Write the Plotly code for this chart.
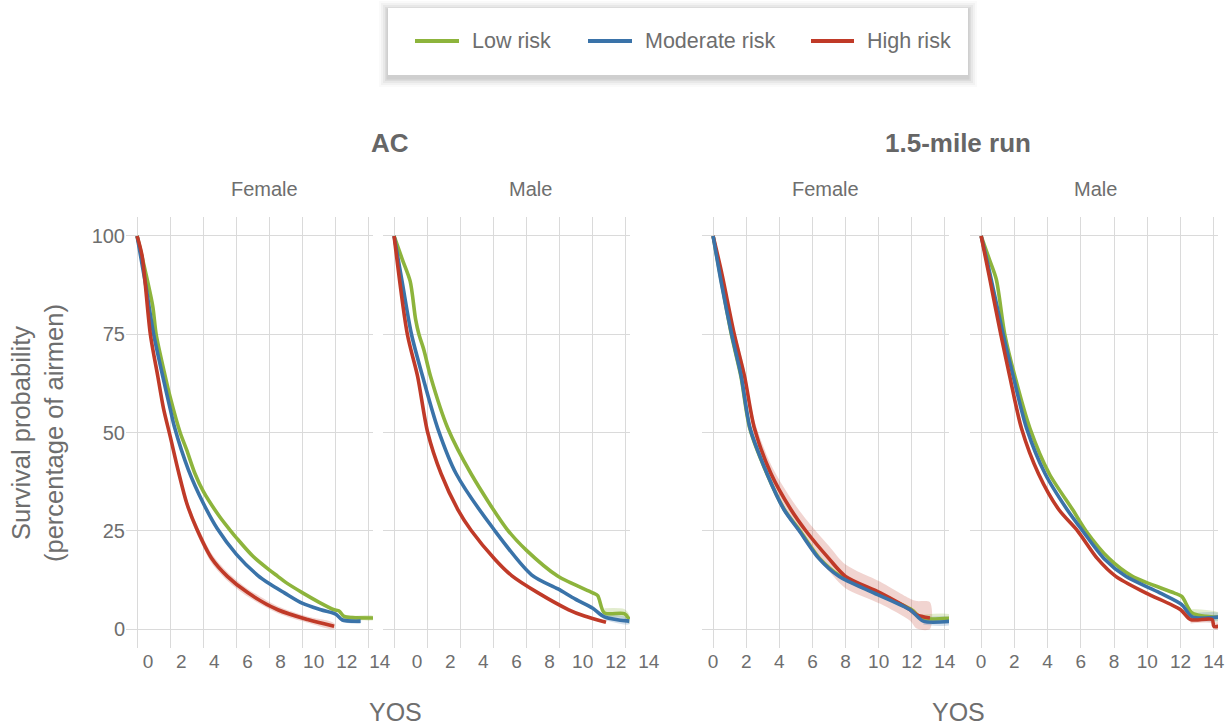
import plotly.graph_objects as go

# ---------------- data ----------------
risk_names = ["Low risk", "Moderate risk", "High risk"]
risk_colors = ["#8db43c", "#3a73a9", "#c03a28"]
risk_fills = ["rgba(141,180,60,0.25)", "rgba(58,115,169,0.22)", "rgba(192,58,40,0.22)"]

# AC - Female
ac_f_low_t = [0, 0.5, 0.95, 1.15, 1.7, 2.0, 2.6, 3.0, 3.5, 4, 5, 5.65, 6, 7, 8, 8.5, 9, 10, 11, 11.9, 12.2, 12.5, 13, 14.3]
ac_f_low_s = [100, 91, 82, 75, 64.3, 59, 50, 45.5, 39.5, 35, 28.5, 25, 23.2, 18.5, 15, 13.4, 11.8, 9.2, 6.8, 4.9, 4.6, 3.2, 2.9, 2.8]
ac_f_mod_t = [0, 0.5, 1.0, 1.55, 2.0, 2.25, 3.1, 4, 4.85, 6, 7.3, 8, 8.9, 10, 11.1, 12, 12.4, 13.5]
ac_f_mod_s = [100, 88, 75, 64.3, 56, 51.5, 40.5, 32, 25.5, 19, 13.6, 11.5, 9.2, 6.5, 4.9, 3.8, 2.3, 2.0]
ac_f_high_t = [0, 0.3, 0.8, 1.25, 1.6, 2.0, 2.5, 3.0, 3.6, 4.5, 5.45, 6.7, 8.5, 10.3, 11.9]
ac_f_high_s = [100, 95, 75, 64.3, 56, 49, 40, 32, 25.5, 18, 13.4, 9.2, 4.9, 2.4, 0.7]
ac_f_high_ci = [0, 0.5, 0.8, 1.0, 1.0, 1.1, 1.2, 1.2, 1.2, 1.2, 1.1, 1.0, 0.9, 0.8, 0.8]

# AC - Male
ac_m_low_t = [0, 0.5, 0.97, 1.3, 1.5, 1.8, 2.2, 3.25, 4.65, 6.8, 8, 9.9, 12.0, 12.3, 12.7, 13.9, 14.2]
ac_m_low_s = [100, 94, 88.5, 78.8, 75, 71, 64.3, 51, 39.5, 25.5, 20, 13.4, 9.2, 8.5, 4.1, 3.9, 2.5]
ac_m_mod_t = [0, 0.5, 1.05, 1.72, 2.64, 3.75, 6.0, 8.3, 9.9, 10.95, 12.0, 12.7, 14.2]
ac_m_mod_s = [100, 88, 75, 64.3, 51, 39.5, 25.5, 13.8, 10.2, 7.6, 5.3, 3.1, 2.0]
ac_m_high_t = [0, 0.8, 1.42, 2.03, 2.84, 3.85, 4.67, 6.1, 7.1, 8.7, 10.55, 11.5, 12.8]
ac_m_high_s = [100, 75, 64.3, 50, 39.5, 30.4, 25, 17.7, 13.6, 9.2, 4.9, 3.3, 1.7]

# 1.5-mile run - Female
run_f_low_t = [0, 0.5, 1.1, 1.68, 2.22, 3.25, 4.3, 5.25, 6.45, 7.7, 9.8, 12.0, 12.6, 14.4]
run_f_low_s = [100, 88.5, 75, 64.3, 51, 39.5, 30.4, 25, 17.9, 13.4, 9.2, 4.9, 2.8, 2.8]
run_f_mod_t = [0, 0.5, 1.12, 1.7, 2.24, 3.26, 4.28, 5.2, 6.4, 7.6, 9.7, 11.9, 12.7, 14.4]
run_f_mod_s = [100, 88, 75, 64.3, 51, 39.5, 30.4, 25, 17.9, 13.4, 9.2, 4.9, 2.0, 2.0]
run_f_high_t = [0, 0.5, 1.28, 1.9, 2.5, 3.5, 4.7, 5.6, 7.0, 8.0, 10.1, 11.9, 12.3, 13.1]
run_f_high_s = [100, 91, 75, 64.3, 51, 39.5, 30.4, 25, 17.9, 13.4, 9.2, 4.9, 3.6, 2.8]
run_f_high_ci = [0, 1.0, 1.5, 1.8, 2.0, 2.3, 2.8, 3.0, 3.2, 3.0, 2.8, 2.8, 3.5, 4.0]

# 1.5-mile run - Male
run_m_low_t = [0, 0.5, 0.91, 1.42, 2.03, 2.94, 4.1, 5.5, 6.3, 7.7, 9.1, 11.6, 12.07, 12.7, 14.4]
run_m_low_s = [100, 94, 89, 75, 64.3, 51, 39.5, 30.4, 25, 17.9, 13.4, 9.2, 8.3, 4.1, 3.0]
run_m_mod_t = [0, 0.5, 1.32, 1.93, 2.74, 3.85, 5.17, 6.1, 7.4, 8.7, 10.75, 12.07, 12.7, 14.4]
run_m_mod_s = [100, 91, 75, 64.3, 51, 39.5, 30.4, 25, 17.9, 13.4, 9.2, 6.2, 3.1, 3.1]
run_m_high_t = [0, 0.5, 1.18, 1.72, 2.43, 3.45, 4.67, 5.8, 7.0, 8.1, 9.9, 12.0, 12.6, 13.9, 14.0, 14.3]
run_m_high_s = [100, 89.5, 75, 64.3, 51, 39.5, 30.4, 25, 17.9, 13.4, 9.2, 4.9, 2.4, 2.4, 0.7, 0.7]

# late-follow-up confidence bands: start time and half-width per (panel, risk)
tail_start = [[12.2, 12.4, None], [12.7, 12.7, None], [12.6, 12.7, None], [12.7, 12.7, 12.6]]
tail_halfwidth = [[0.5, 0.6, None], [1.2, 0.8, None], [0.8, 0.9, None], [1.0, 0.9, 1.0]]

group_titles = ["AC", "1.5-mile run"]
sex_titles = ["Female", "Male", "Female", "Male"]
x_ticks = [0, 2, 4, 6, 8, 10, 12, 14]
y_ticks = [0, 25, 50, 75, 100]
x_title = "YOS"
y_title = "Survival probability<br>(percentage of airmen)"

panels = [
    [(ac_f_low_t, ac_f_low_s), (ac_f_mod_t, ac_f_mod_s), (ac_f_high_t, ac_f_high_s)],
    [(ac_m_low_t, ac_m_low_s), (ac_m_mod_t, ac_m_mod_s), (ac_m_high_t, ac_m_high_s)],
    [(run_f_low_t, run_f_low_s), (run_f_mod_t, run_f_mod_s), (run_f_high_t, run_f_high_s)],
    [(run_m_low_t, run_m_low_s), (run_m_mod_t, run_m_mod_s), (run_m_high_t, run_m_high_s)],
]
bands = {0: ac_f_high_ci, 2: run_f_high_ci}

# ---------------- layout helpers ----------------
W, H = 1231, 726
FONT = "Liberation Sans, Arial, sans-serif"
TXT = "#6e6e6e"
GRID = "#dadada"


def px(x):
    return x / W


def py(y):
    return 1 - y / H


x_domains = [(126, 373), (383, 630), (702, 949), (970, 1218)]
label_shift = [11, 23, 0, 0]
y_dom = [py(648), py(217)]

fig = go.Figure()


def add_band(t, lo, up, color, xa, ya):
    fig.add_trace(go.Scatter(x=list(t) + list(t)[::-1], y=list(up) + list(lo)[::-1], fill="toself",
                             mode="lines", fillcolor=color,
                             line=dict(width=0, shape="spline", smoothing=0.8),
                             hoverinfo="skip", showlegend=False, xaxis=xa, yaxis=ya))


for i, series in enumerate(panels):
    xa = "x" if i == 0 else f"x{i+1}"
    ya = "y" if i == 0 else f"y{i+1}"
    if i in bands:
        t, s = series[2]
        hw = bands[i]
        add_band(t, [max(0, v - h) for v, h in zip(s, hw)],
                 [min(100, v + h) for v, h in zip(s, hw)], risk_fills[2], xa, ya)
    for k in range(3):
        ts = tail_start[i][k]
        if ts is None:
            continue
        t, s = series[k]
        tt = [a for a in t if a >= ts]
        ss = [b for a, b in zip(t, s) if a >= ts]
        hw = tail_halfwidth[i][k]
        add_band(tt, [max(0, v - hw) for v in ss], [v + hw for v in ss], risk_fills[k], xa, ya)
    order = [0, 1, 2] if i != 2 else [0, 2, 1]
    for k in order:
        t, s = series[k]
        fig.add_trace(go.Scatter(x=t, y=s, mode="lines", name=risk_names[k],
                                 line=dict(color=risk_colors[k], width=3.6, shape="spline", smoothing=0.8),
                                 showlegend=False, xaxis=xa, yaxis=ya))

    xkey = "xaxis" if i == 0 else f"xaxis{i+1}"
    ykey = "yaxis" if i == 0 else f"yaxis{i+1}"
    d0, d1 = x_domains[i]
    fig.layout[xkey] = dict(domain=[px(d0), px(d1)], range=[-0.67, 14.25], anchor=ya,
                            tickvals=x_ticks, ticktext=[str(v) for v in x_ticks],
                            showgrid=True, gridcolor=GRID, gridwidth=1, zeroline=False,
                            showline=False, ticks="", ticklabelshift=label_shift[i],
                            tickfont=dict(family=FONT, size=19, color=TXT),
                            automargin=False, fixedrange=True)
    fig.layout[ykey] = dict(domain=y_dom, range=[-4.83, 104.83], anchor=xa,
                            tickvals=y_ticks, ticktext=[str(v) for v in y_ticks],
                            showgrid=True, gridcolor=GRID, gridwidth=1, zeroline=False,
                            showline=False, ticks="", showticklabels=(i == 0),
                            tickfont=dict(family=FONT, size=20, color=TXT),
                            automargin=False, fixedrange=True)

annotations = []
for txt, xc in zip(group_titles, [390, 958]):
    annotations.append(dict(text=f"<b>{txt}</b>", x=px(xc), y=py(143), xref="paper", yref="paper",
                            showarrow=False, xanchor="center", yanchor="middle",
                            font=dict(family=FONT, size=26, color="#666666")))
for txt, xc in zip(sex_titles, [264, 530, 826, 1095]):
    annotations.append(dict(text=txt, x=px(xc), y=py(189), xref="paper", yref="paper",
                            showarrow=False, xanchor="center", yanchor="middle",
                            font=dict(family=FONT, size=20, color=TXT)))
for xc in [395, 958]:
    annotations.append(dict(text=x_title, x=px(xc), y=py(712), xref="paper", yref="paper",
                            showarrow=False, xanchor="center", yanchor="middle",
                            font=dict(family=FONT, size=25, color=TXT)))
annotations.append(dict(text=y_title, x=px(37), y=py(433), xref="paper", yref="paper",
                        showarrow=False, xanchor="center", yanchor="middle", textangle=-90,
                        font=dict(family=FONT, size=25.5, color=TXT)))

shapes = []
bx0, by0, bx1, by1 = 388, 8, 968, 75
for g, a in [(9, 0.02), (7, 0.03), (5, 0.04), (3, 0.05), (1.5, 0.06)]:
    shapes.append(dict(type="rect", xref="paper", yref="paper",
                       x0=px(bx0 - g), x1=px(bx1 + g), y0=py(by1 + g + 3), y1=py(by0 - g + 2),
                       line=dict(width=0), fillcolor=f"rgba(0,0,0,{a})", layer="above"))
shapes.append(dict(type="rect", xref="paper", yref="paper", x0=px(bx0), x1=px(bx1),
                   y0=py(by1), y1=py(by0), line=dict(width=0), fillcolor="white", layer="above"))
leg_line_x = [(415, 459), (588, 632), (811, 854)]
leg_text_x = [470, 643, 865]
for k in range(3):
    a, b = leg_line_x[k]
    shapes.append(dict(type="line", xref="paper", yref="paper", x0=px(a), x1=px(b),
                       y0=py(41), y1=py(41), line=dict(color=risk_colors[k], width=4), layer="above"))
    annotations.append(dict(text=risk_names[k], x=px(leg_text_x[k]), y=py(41), xref="paper",
                            yref="paper", showarrow=False, xanchor="left", yanchor="middle",
                            font=dict(family=FONT, size=21.5, color=TXT)))

fig.update_layout(width=W, height=H, autosize=False,
                  margin=dict(l=0, r=0, t=0, b=0, pad=0, autoexpand=False),
                  paper_bgcolor="white", plot_bgcolor="white", showlegend=False,
                  annotations=annotations, shapes=shapes)

post = ("document.documentElement.style.margin='0';document.documentElement.style.overflow='hidden';"
        "document.body.style.margin='0';document.body.style.padding='0';document.body.style.overflow='hidden';")
fig.write_html("out.html", post_script=post, config={"displayModeBar": False})
